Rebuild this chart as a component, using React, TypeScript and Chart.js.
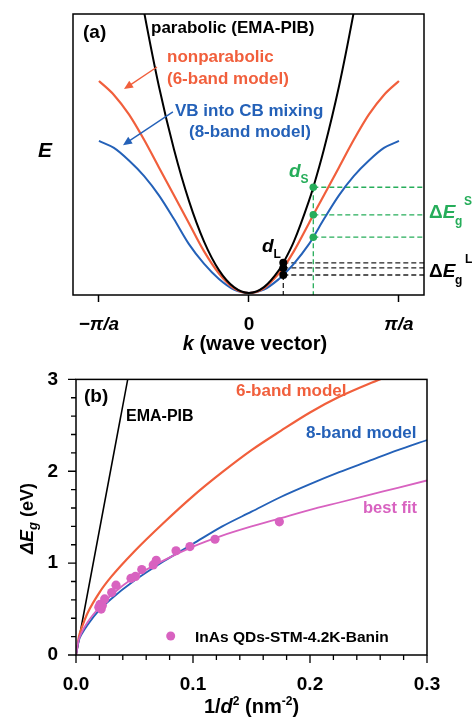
import React, { useEffect, useRef } from "react";
import { Chart, registerables } from "chart.js";

Chart.register(...registerables);

const FONT = "'Liberation Sans', Arial, Helvetica, sans-serif";
const RED = "#f15f3c";
const BLUE = "#2461b8";
const PINK = "#d862c0";
const GREEN = "#26ad5a";
const BLACK = "#000000";

// ---------- Panel (a): E(k) dispersion, k in units of pi/a ----------
const kBand = [-1, -0.9, -0.8, -0.7, -0.6, -0.5, -0.4, -0.3, -0.2, -0.1, 0, 0.1, 0.2, 0.229, 0.3, 0.4, 0.429, 0.5, 0.6, 0.7, 0.8, 0.9, 1];
const eSixBand = [0.76, 0.71, 0.64, 0.55, 0.45, 0.35, 0.25, 0.15, 0.07, 0.017, 0, 0.017, 0.07, 0.09, 0.15, 0.25, 0.28, 0.35, 0.45, 0.55, 0.64, 0.71, 0.76];
const eEightBand = [0.545, 0.52, 0.475, 0.42, 0.35, 0.265, 0.175, 0.105, 0.05, 0.012, 0, 0.012, 0.05, 0.0645, 0.105, 0.175, 0.2, 0.265, 0.35, 0.42, 0.475, 0.52, 0.545];
const kParabolic = [-0.76, -0.7, -0.6, -0.5, -0.4, -0.3, -0.2, -0.1, 0, 0.1, 0.2, 0.229, 0.3, 0.4, 0.429, 0.5, 0.6, 0.7, 0.76];
const eParabolic = [1.19, 1.01, 0.74, 0.515, 0.33, 0.185, 0.082, 0.021, 0, 0.021, 0.082, 0.108, 0.185, 0.33, 0.379, 0.515, 0.74, 1.01, 1.19];

// confinement wave vectors for a large (d_L) and a small (d_S) dot
const kLargeDot = 0.229;
const kSmallDot = 0.429;
// energies at those k: parabolic, 6-band, 8-band
const eLargeDot = [0.108, 0.09, 0.0645];
const eSmallDot = [0.379, 0.28, 0.2];

const kTicksA = [-1, 0, 1];
const kTickLabelsA = ["\u2212\u03c0/a", "0", "\u03c0/a"];

// ---------- Panel (b): gap shift vs 1/d^2 ----------
const vEma = [0, 0.0442];
const eEma = [0, 3];
const vSix = [0, 0.0025, 0.005, 0.01, 0.02, 0.03, 0.05, 0.075, 0.1, 0.125, 0.15, 0.175, 0.2, 0.225, 0.25, 0.27];
const eSix = [0, 0.2, 0.3, 0.46, 0.68, 0.85, 1.13, 1.44, 1.73, 1.99, 2.23, 2.44, 2.64, 2.81, 2.95, 3.05];
const vModel = [0, 0.0025, 0.005, 0.01, 0.02, 0.03, 0.05, 0.075, 0.1, 0.125, 0.15, 0.175, 0.2, 0.225, 0.25, 0.275, 0.3];
const eEight = [0, 0.16, 0.23, 0.33, 0.49, 0.61, 0.81, 1.02, 1.21, 1.4, 1.56, 1.72, 1.86, 1.99, 2.11, 2.23, 2.34];
const eBestFit = [0, 0.17, 0.25, 0.36, 0.52, 0.65, 0.85, 1.03, 1.18, 1.3, 1.4, 1.49, 1.58, 1.66, 1.74, 1.82, 1.9];
const vMeasured = [0.0195, 0.0205, 0.0215, 0.0225, 0.0245, 0.0305, 0.0342, 0.047, 0.0508, 0.0562, 0.066, 0.0686, 0.0855, 0.0974, 0.1188, 0.1738];
const eMeasured = [0.52, 0.55, 0.5, 0.54, 0.61, 0.68, 0.76, 0.835, 0.855, 0.93, 0.98, 1.03, 1.135, 1.18, 1.26, 1.45];

const xTicksB = [0, 0.1, 0.2, 0.3];
const yTicksB = [0, 1, 2, 3];

// axis ranges
const K_MIN = -1.173;
const K_MAX = 1.167;
const E_MIN_A = -0.0072;
const E_MAX_A = 1.0;

const pts = (xs: number[], ys: number[]) => xs.map((x, i) => ({ x, y: ys[i] }));

function curve(xs: number[], ys: number[], color: string, width = 2) {
  return {
    data: pts(xs, ys),
    showLine: true,
    borderColor: color,
    backgroundColor: color,
    borderWidth: width,
    pointRadius: 0,
    cubicInterpolationMode: "monotone" as const,
    fill: false,
  };
}

function dashed(p0: { x: number; y: number }, p1: { x: number; y: number }, color: string) {
  return {
    data: [p0, p1],
    showLine: true,
    borderColor: color,
    borderWidth: 1.3,
    borderDash: [5, 3],
    pointRadius: 0,
    fill: false,
  };
}

type Seg = { t: string; size: number; italic?: boolean; dy?: number; color?: string };

function fontOf(s: Seg) {
  return `${s.italic ? "italic " : ""}bold ${s.size}px ${FONT}`;
}

function rich(ctx: CanvasRenderingContext2D, x: number, y: number, segs: Seg[], color: string, align: "left" | "center" = "left") {
  ctx.save();
  ctx.textBaseline = "alphabetic";
  ctx.textAlign = "left";
  let total = 0;
  const widths = segs.map((s) => {
    ctx.font = fontOf(s);
    const w = ctx.measureText(s.t).width;
    total += w;
    return w;
  });
  let cx = align === "center" ? x - total / 2 : x;
  segs.forEach((s, i) => {
    ctx.font = fontOf(s);
    ctx.fillStyle = s.color ?? color;
    ctx.fillText(s.t, cx, y + (s.dy ?? 0));
    cx += widths[i];
  });
  ctx.restore();
}

function arrow(ctx: CanvasRenderingContext2D, x0: number, y0: number, x1: number, y1: number, color: string) {
  const ang = Math.atan2(y1 - y0, x1 - x0);
  const L = 9;
  const W = 4;
  ctx.save();
  ctx.strokeStyle = color;
  ctx.fillStyle = color;
  ctx.lineWidth = 1.4;
  ctx.beginPath();
  ctx.moveTo(x0, y0);
  ctx.lineTo(x1 - Math.cos(ang) * L * 0.7, y1 - Math.sin(ang) * L * 0.7);
  ctx.stroke();
  ctx.beginPath();
  ctx.moveTo(x1, y1);
  ctx.lineTo(x1 - Math.cos(ang) * L - Math.sin(ang) * W, y1 - Math.sin(ang) * L + Math.cos(ang) * W);
  ctx.lineTo(x1 - Math.cos(ang) * L + Math.sin(ang) * W, y1 - Math.sin(ang) * L - Math.cos(ang) * W);
  ctx.closePath();
  ctx.fill();
  ctx.restore();
}

function frame(chart: any) {
  const { ctx, chartArea } = chart;
  ctx.save();
  ctx.strokeStyle = BLACK;
  ctx.lineWidth = 1.5;
  ctx.strokeRect(chartArea.left, chartArea.top, chartArea.right - chartArea.left, chartArea.bottom - chartArea.top);
  ctx.restore();
}

const panelAPlugin = {
  id: "panelA",
  afterDraw(chart: any) {
    const ctx: CanvasRenderingContext2D = chart.ctx;
    const xs = chart.scales.x;
    const ys = chart.scales.y;
    const P = (k: number, e: number) => [xs.getPixelForValue(k), ys.getPixelForValue(e)];
    frame(chart);

    rich(ctx, 83, 38, [{ t: "(a)", size: 19 }], BLACK);
    rich(ctx, 151, 33, [{ t: "parabolic (EMA-PIB)", size: 17 }], BLACK);
    rich(ctx, 167, 62, [{ t: "nonparabolic", size: 17 }], RED);
    rich(ctx, 167, 83.5, [{ t: "(6-band model)", size: 17 }], RED);
    rich(ctx, 175, 116, [{ t: "VB into CB mixing", size: 17 }], BLUE);
    rich(ctx, 189, 137, [{ t: "(8-band model)", size: 17 }], BLUE);

    const [ra0x, ra0y] = P(-0.613, 0.81);
    const [ra1x, ra1y] = P(-0.833, 0.731);
    arrow(ctx, ra0x, ra0y, ra1x, ra1y, RED);
    const [ba0x, ba0y] = P(-0.507, 0.649);
    const [ba1x, ba1y] = P(-0.84, 0.53);
    arrow(ctx, ba0x, ba0y, ba1x, ba1y, BLUE);

    rich(ctx, 45, 157, [{ t: "E", size: 21, italic: true }], BLACK, "center");

    rich(ctx, 289, 177, [{ t: "d", size: 19, italic: true }, { t: "S", size: 12, dy: 5.5 }], GREEN);
    rich(ctx, 262, 252, [{ t: "d", size: 19, italic: true }, { t: "L", size: 12, dy: 6 }], BLACK);

    rich(ctx, 429, 218, [{ t: "\u0394", size: 19 }, { t: "E", size: 19, italic: true }], GREEN);
    rich(ctx, 455, 224.5, [{ t: "g", size: 12 }], GREEN);
    rich(ctx, 464, 205, [{ t: "S", size: 12 }], GREEN);
    rich(ctx, 429, 277.3, [{ t: "\u0394", size: 19 }, { t: "E", size: 19, italic: true }], BLACK);
    rich(ctx, 455, 284, [{ t: "g", size: 12 }], BLACK);
    rich(ctx, 465, 263, [{ t: "L", size: 12 }], BLACK);

    rich(ctx, 255, 350, [{ t: "k", size: 20, italic: true }, { t: " (wave vector)", size: 20 }], BLACK, "center");
  },
};

const MINOR_X_B = 0.02;
const MINOR_Y_B = 0.2;

const panelBPlugin = {
  id: "panelB",
  afterDraw(chart: any) {
    const ctx: CanvasRenderingContext2D = chart.ctx;
    const xs = chart.scales.x;
    const ys = chart.scales.y;
    const { chartArea } = chart;
    frame(chart);

    // outward tick marks, long on labelled values
    ctx.save();
    ctx.strokeStyle = BLACK;
    ctx.lineWidth = 1.3;
    ctx.beginPath();
    const nx = Math.round((xs.max - xs.min) / MINOR_X_B);
    for (let i = 0; i <= nx; i++) {
      const px = xs.getPixelForValue(xs.min + i * MINOR_X_B);
      const len = i % 5 === 0 ? 8 : 5;
      ctx.moveTo(px, chartArea.bottom);
      ctx.lineTo(px, chartArea.bottom + len);
    }
    const ny = Math.round((ys.max - ys.min) / MINOR_Y_B);
    for (let i = 0; i <= ny; i++) {
      const py = ys.getPixelForValue(ys.min + i * MINOR_Y_B);
      const len = i % 5 === 0 ? 8 : 5;
      ctx.moveTo(chartArea.left, py);
      ctx.lineTo(chartArea.left - len, py);
    }
    ctx.stroke();
    ctx.restore();

    rich(ctx, 84, 44, [{ t: "(b)", size: 19 }], BLACK);
    rich(ctx, 126, 63, [{ t: "EMA-PIB", size: 16 }], BLACK);
    rich(ctx, 236, 38, [{ t: "6-band model", size: 17 }], RED);
    rich(ctx, 306, 80, [{ t: "8-band model", size: 17 }], BLUE);
    rich(ctx, 363, 155, [{ t: "best fit", size: 16.5 }], PINK);

    // legend entry for the measured dots
    ctx.save();
    ctx.fillStyle = PINK;
    ctx.beginPath();
    ctx.arc(170.7, 278, 4.5, 0, Math.PI * 2);
    ctx.fill();
    ctx.restore();
    rich(ctx, 195, 283.7, [{ t: "InAs QDs-STM-4.2K-Banin", size: 15.5 }], BLACK);

    // y-axis title, rotated
    ctx.save();
    ctx.translate(33, 160.5);
    ctx.rotate(-Math.PI / 2);
    rich(
      ctx,
      0,
      0,
      [
        { t: "\u0394E", size: 18, italic: true },
        { t: "g", size: 13, italic: true, dy: 4 },
        { t: " (eV)", size: 18 },
      ],
      BLACK,
      "center"
    );
    ctx.restore();

    rich(
      ctx,
      251.5,
      354.6,
      [
        { t: "1/", size: 20 },
        { t: "d", size: 20, italic: true },
        { t: "2", size: 12, dy: -8 },
        { t: " (nm", size: 20 },
        { t: "-2", size: 12, dy: -8 },
        { t: ")", size: 20 },
      ],
      BLACK,
      "center"
    );
  },
};

function configA(): any {
  return {
    type: "scatter",
    data: {
      datasets: [
        // dots (drawn on top)
        {
          data: [...eLargeDot.map((e) => ({ x: kLargeDot, y: e }))],
          pointRadius: 4,
          pointBackgroundColor: BLACK,
          pointBorderWidth: 0,
          showLine: false,
        },
        {
          data: [...eSmallDot.map((e) => ({ x: kSmallDot, y: e }))],
          pointRadius: 3.8,
          pointBackgroundColor: GREEN,
          pointBorderWidth: 0,
          showLine: false,
        },
        curve(kParabolic, eParabolic, BLACK, 2),
        curve(kBand, eSixBand, RED, 2.2),
        curve(kBand, eEightBand, BLUE, 2),
        ...eSmallDot.map((e) => dashed({ x: kSmallDot, y: e }, { x: K_MAX, y: e }, GREEN)),
        dashed({ x: kSmallDot, y: eSmallDot[0] }, { x: kSmallDot, y: E_MIN_A }, GREEN),
        ...eLargeDot.map((e) => dashed({ x: kLargeDot, y: e }, { x: K_MAX, y: e }, "#222")),
        dashed({ x: kLargeDot, y: eLargeDot[2] }, { x: kLargeDot, y: E_MIN_A }, "#222"),
      ],
    },
    options: {
      animation: false,
      responsive: false,
      maintainAspectRatio: false,
      events: [],
      layout: { padding: { left: 0, right: 48, top: 14, bottom: 0 } },
      plugins: { legend: { display: false }, tooltip: { enabled: false } },
      scales: {
        x: {
          type: "linear",
          min: K_MIN,
          max: K_MAX,
          afterBuildTicks: (s: any) => {
            s.ticks = kTicksA.map((v) => ({ value: v }));
          },
          afterFit: (s: any) => {
            s.height = 63;
          },
          ticks: {
            autoSkip: false,
            maxRotation: 0,
            padding: 11,
            color: BLACK,
            callback: (v: any) => kTickLabelsA[kTicksA.indexOf(Number(v))],
            font: (c: any) => ({
              family: FONT,
              size: 19,
              weight: "bold",
              style: c.tick && c.tick.value === 0 ? "normal" : "italic",
            }),
          },
          grid: {
            display: true,
            drawOnChartArea: false,
            drawTicks: true,
            tickLength: 7,
            tickWidth: 1.5,
            tickColor: BLACK,
            color: BLACK,
          },
          border: { display: false },
        },
        y: {
          type: "linear",
          min: E_MIN_A,
          max: E_MAX_A,
          afterFit: (s: any) => {
            s.width = 73;
          },
          ticks: { display: false },
          grid: { display: false },
          border: { display: false },
        },
      },
    },
    plugins: [panelAPlugin],
  };
}

function configB(): any {
  return {
    type: "scatter",
    data: {
      datasets: [
        {
          data: pts(vMeasured, eMeasured),
          pointRadius: 4.6,
          pointBackgroundColor: PINK,
          pointBorderWidth: 0,
          showLine: false,
        },
        curve(vModel, eBestFit, PINK, 1.8),
        curve(vModel, eEight, BLUE, 1.9),
        curve(vSix, eSix, RED, 2.2),
        curve(vEma, eEma, BLACK, 1.6),
      ],
    },
    options: {
      animation: false,
      responsive: false,
      maintainAspectRatio: false,
      events: [],
      layout: { padding: { left: 0, right: 45, top: 15, bottom: 0 } },
      plugins: { legend: { display: false }, tooltip: { enabled: false } },
      scales: {
        x: {
          type: "linear",
          min: 0,
          max: 0.3,
          afterBuildTicks: (s: any) => {
            s.ticks = xTicksB.map((v) => ({ value: v }));
          },
          afterFit: (s: any) => {
            s.height = 62;
          },
          ticks: {
            autoSkip: false,
            maxRotation: 0,
            padding: 10,
            color: BLACK,
            callback: (v: any) => Number(v).toFixed(1),
            font: { family: FONT, size: 19, weight: "bold" },
          },
          grid: { display: false },
          border: { display: false },
        },
        y: {
          type: "linear",
          min: 0,
          max: 3,
          afterBuildTicks: (s: any) => {
            s.ticks = yTicksB.map((v) => ({ value: v }));
          },
          afterFit: (s: any) => {
            s.width = 76;
          },
          ticks: {
            padding: 10,
            color: BLACK,
            callback: (v: any) => String(v),
            font: { family: FONT, size: 19, weight: "bold" },
          },
          grid: { display: false },
          border: { display: false },
        },
      },
    },
    plugins: [panelBPlugin],
  };
}

export default function App() {
  const refA = useRef<HTMLCanvasElement>(null);
  const refB = useRef<HTMLCanvasElement>(null);

  useEffect(() => {
    const a = new Chart(refA.current as HTMLCanvasElement, configA());
    const b = new Chart(refB.current as HTMLCanvasElement, configB());
    return () => {
      a.destroy();
      b.destroy();
    };
  }, []);

  return (
    <div style={{ position: "absolute", left: 0, top: 0, width: 472, height: 717, background: "#fff" }}>
      <canvas
        ref={refA}
        width={472}
        height={358}
        style={{ position: "absolute", left: 0, top: 0, width: 472, height: 358 }}
      />
      <canvas
        ref={refB}
        width={472}
        height={359}
        style={{ position: "absolute", left: 0, top: 358, width: 472, height: 359 }}
      />
    </div>
  );
}
